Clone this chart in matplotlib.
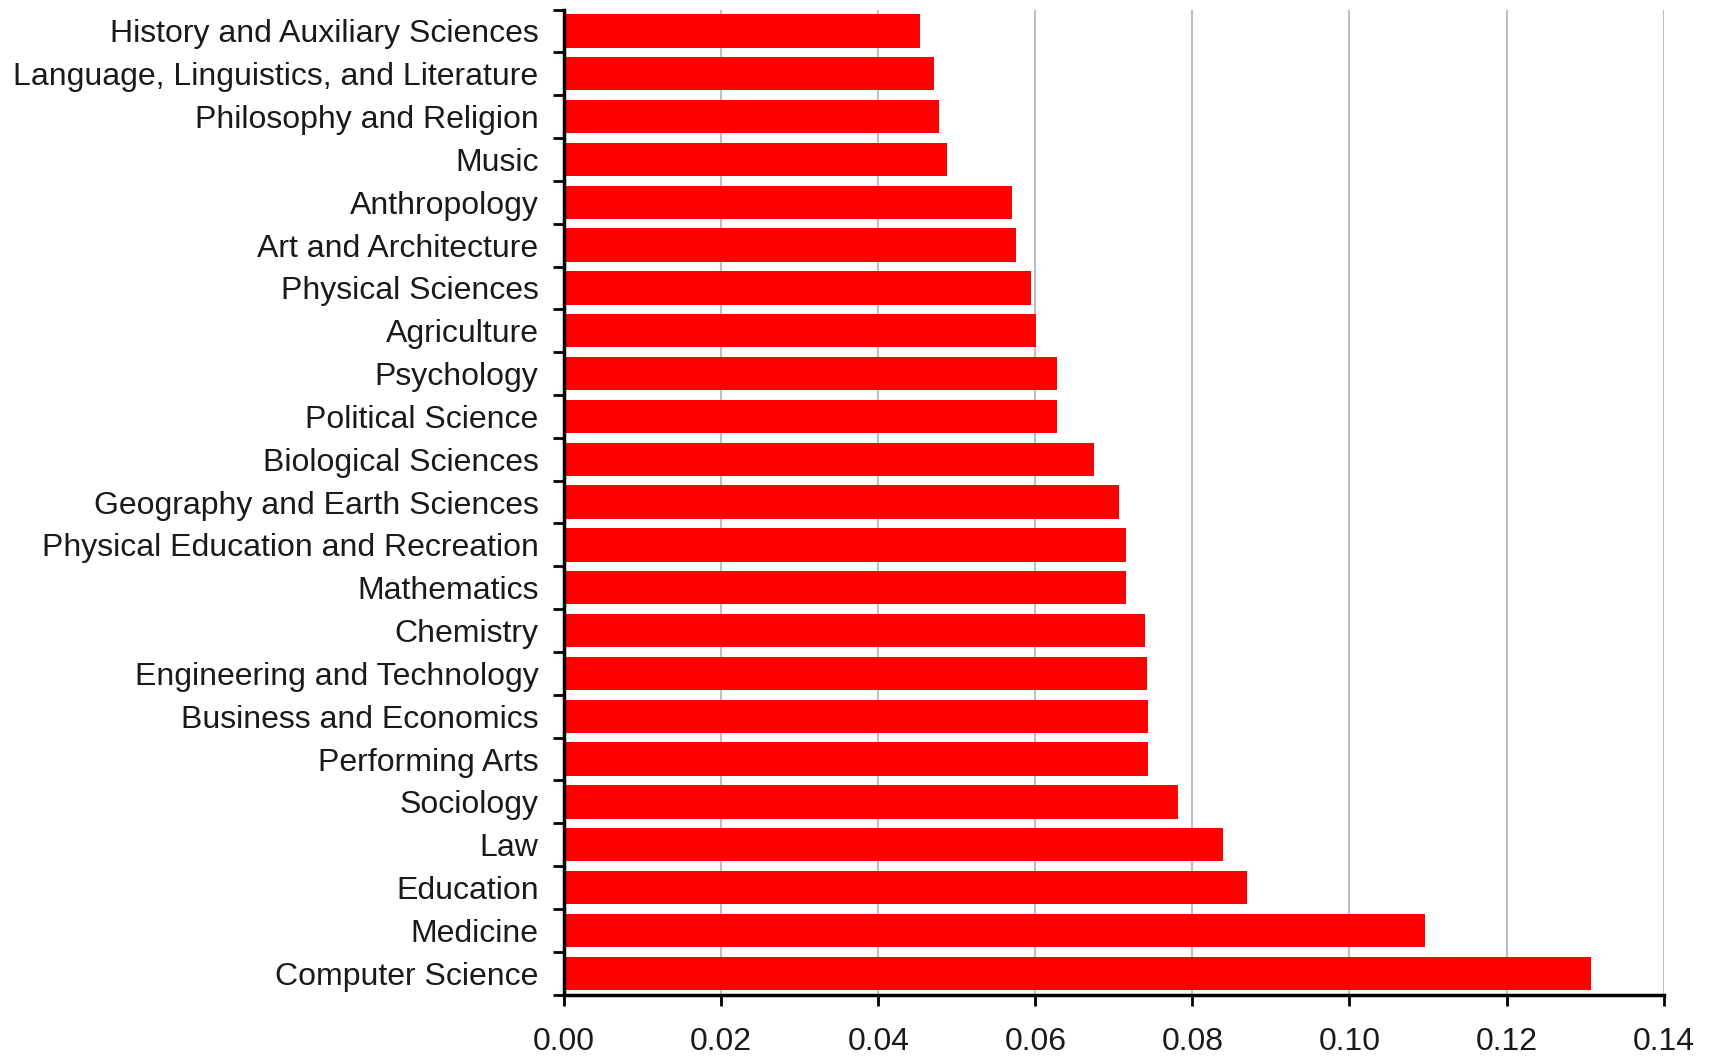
import matplotlib
matplotlib.use("Agg")
import matplotlib.pyplot as plt
import numpy as np

plt.rcParams['font.family'] = ['Liberation Sans', 'DejaVu Sans']

categories = [
    "History and Auxiliary Sciences",
    "Language, Linguistics, and Literature",
    "Philosophy and Religion",
    "Music",
    "Anthropology",
    "Art and Architecture",
    "Physical Sciences",
    "Agriculture",
    "Psychology",
    "Political Science",
    "Biological Sciences",
    "Geography and Earth Sciences",
    "Physical Education and Recreation",
    "Mathematics",
    "Chemistry",
    "Engineering and Technology",
    "Business and Economics",
    "Performing Arts",
    "Sociology",
    "Law",
    "Education",
    "Medicine",
    "Computer Science",
]
values = [
    0.0453, 0.0471, 0.0477, 0.0488, 0.0570, 0.0575, 0.0595, 0.0601,
    0.0628, 0.0628, 0.0675, 0.0706, 0.0715, 0.0715, 0.0740, 0.0742,
    0.0743, 0.0743, 0.0782, 0.0839, 0.0869, 0.1096, 0.1307,
]
xticks = [0.00, 0.02, 0.04, 0.06, 0.08, 0.10, 0.12, 0.14]

fig = plt.figure(figsize=(17.15, 10.57), dpi=100)
ax = fig.add_axes([0.329, 0.059, 0.641, 0.932])

n = len(categories)
ypos = np.arange(n)[::-1]  # first category at top
ax.barh(ypos, values, height=0.78, color="#ff0000", zorder=3)

ax.set_xlim(0, 0.14)
ax.set_ylim(-0.5, n - 0.5)
ax.set_xticks(xticks)
ax.set_xticklabels([f"{t:.2f}" for t in xticks], fontsize=23, color="#1a1a1a")
ax.set_yticks(ypos)
ax.set_yticklabels(categories, fontsize=23, color="#1a1a1a")
ax.set_yticks(np.arange(-0.5, n, 1.0), minor=True)

ax.tick_params(axis='y', which='major', length=0, pad=18.5)
ax.tick_params(axis='y', which='minor', length=8, width=2, direction='out', color='black')
ax.tick_params(axis='x', which='major', length=8, width=2, direction='out', color='black', pad=15)

ax.grid(axis='x', color="#c0c0c0", linewidth=1.5, zorder=0)
ax.set_axisbelow(True)

for s in ['top', 'right']:
    ax.spines[s].set_visible(False)
ax.spines['left'].set_linewidth(2.5)
ax.spines['bottom'].set_linewidth(2.5)
ax.spines['left'].set_zorder(4)

fig.savefig("out.png", dpi=100)
